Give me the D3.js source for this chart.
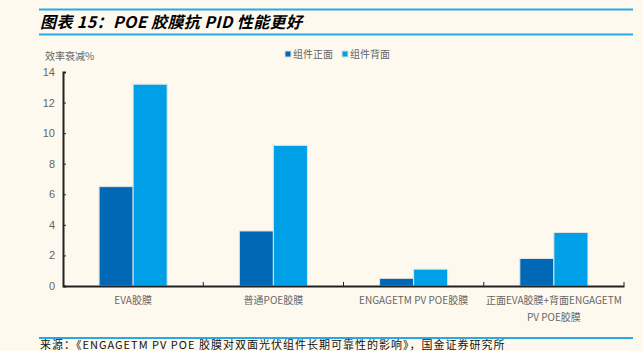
<!DOCTYPE html>
<html><head><meta charset="utf-8">
<script src="https://cdn.jsdelivr.net/npm/d3@7/dist/d3.min.js"></script>
<style>
html,body{margin:0;padding:0;background:#fef9ee;}
svg{display:block;font-family:"Noto Sans CJK SC","Noto Sans",sans-serif;}
</style></head>
<body>
<svg id="c" width="643" height="351"></svg>
<script>
const categories = ["EVA胶膜", "普通POE胶膜", "ENGAGETM PV POE胶膜", "正面EVA胶膜+背面ENGAGETM|PV POE胶膜"];
const seriesNames = ["组件正面", "组件背面"];
const frontValues = [6.5, 3.6, 0.5, 1.8];
const backValues = [13.2, 9.2, 1.1, 3.5];
const yTicks = [0, 2, 4, 6, 8, 10, 12, 14];
const colors = ["#0068b5", "#00a0e9"];

const svg = d3.select("#c");
svg.append("rect").attr("width", 643).attr("height", 351).attr("fill", "#fef9ee");

// header lines and title
svg.append("line").attr("x1", 39).attr("x2", 633).attr("y1", 9.5).attr("y2", 9.5).attr("stroke", "#27a9e6").attr("stroke-width", 2);
svg.append("line").attr("x1", 39).attr("x2", 633).attr("y1", 34.5).attr("y2", 34.5).attr("stroke", "#27a9e6").attr("stroke-width", 2);
svg.append("text").attr("x", 40).attr("y", 28).attr("font-size", 16).attr("font-weight", "bold").attr("font-style", "italic").attr("fill", "#000")
  .attr("letter-spacing", 0.4)
  .text("图表 15：POE 胶膜抗 PID 性能更好");

const x0 = d3.scaleBand().domain(categories).range([63, 624]).paddingInner(0).paddingOuter(0);
const x1 = d3.scaleBand().domain(seriesNames).range([0, x0.bandwidth()]).paddingOuter(1.06).paddingInner(0.0);
const y = d3.scaleLinear().domain([0, 14]).range([286, 72]);

// bars
const data = categories.map((c, i) => ({c, vals: [frontValues[i], backValues[i]]}));
const g = svg.append("g");
data.forEach(d => {
  d.vals.forEach((v, j) => {
    g.append("rect")
      .attr("x", x0(d.c) + x1(seriesNames[j]))
      .attr("y", y(v))
      .attr("width", x1.bandwidth())
      .attr("height", y(0) - y(v))
      .attr("fill", colors[j])
      .attr("stroke", "#e2e2e2").attr("stroke-width", 1);
  });
});

// y axis
const yAxis = svg.append("g").attr("transform", "translate(63,0)")
  .call(d3.axisLeft(y).tickValues(yTicks).tickSize(-3).tickPadding(8).tickFormat(d3.format("d")));
yAxis.select(".domain").attr("stroke", "#222").attr("stroke-width", 2);
yAxis.selectAll(".tick line").attr("stroke", "#222");
yAxis.selectAll("text").attr("fill", "#666").attr("font-size", 11).attr("font-family", "Liberation Sans, Arial, sans-serif");

// x axis
const xAxis = svg.append("g").attr("transform", "translate(0,286)")
  .call(d3.axisBottom(x0).tickSize(0).tickFormat(""));
xAxis.select(".domain").attr("stroke", "#222").attr("stroke-width", 2);
const bounds = [63].concat(categories.map(c => x0(c) + x0.bandwidth()));
bounds.slice(1).forEach(b => {
  svg.append("line").attr("x1", b).attr("x2", b).attr("y1", 286).attr("y2", 282).attr("stroke", "#222");
});
categories.forEach(c => {
  const lines = c.split("|");
  const t = svg.append("text").attr("x", x0(c) + x0.bandwidth() / 2).attr("y", 304)
    .attr("text-anchor", "middle").attr("font-size", 10).attr("fill", "#666");
  lines.forEach((l, k) => t.append("tspan").attr("x", x0(c) + x0.bandwidth() / 2).attr("dy", k ? 17 : 0).text(l));
});

// y label
svg.append("text").attr("x", 45).attr("y", 60).attr("font-size", 10).attr("fill", "#666").text("效率衰减%");

// legend
const lg = svg.append("g").attr("transform", "translate(285,55)");
let lx = 0;
seriesNames.forEach((s, i) => {
  lg.append("rect").attr("x", lx).attr("y", -4).attr("width", 6).attr("height", 6).attr("fill", colors[i]).attr("stroke", "#ddd");
  lg.append("text").attr("x", lx + 8).attr("y", 3).attr("font-size", 10).attr("fill", "#666").text(s);
  lx += 57;
});

// footer
svg.append("line").attr("x1", 39).attr("x2", 633).attr("y1", 338).attr("y2", 338).attr("stroke", "#27a9e6").attr("stroke-width", 2);
svg.append("text").attr("x", 40).attr("y", 349).attr("font-size", 11).attr("fill", "#111").attr("letter-spacing", 1)
  .text("来源：《ENGAGETM PV POE 胶膜对双面光伏组件长期可靠性的影响》，国金证券研究所");
</script>
</body></html>
